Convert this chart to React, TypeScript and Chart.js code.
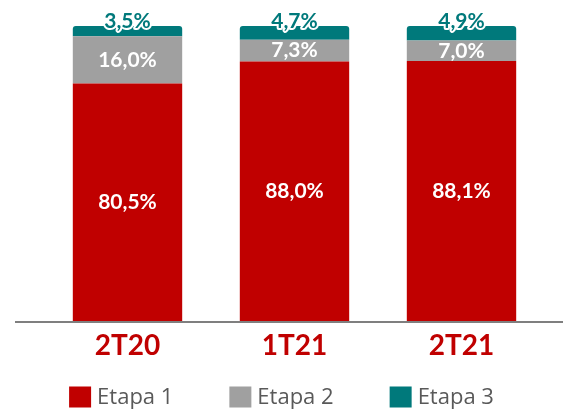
import React, { useEffect, useRef } from "react";
import { Chart, registerables } from "chart.js";

Chart.register(...registerables);

const categories = ["2T20", "1T21", "2T21"];
const etapa1 = [80.5, 88.0, 88.1];
const etapa2 = [16.0, 7.3, 7.0];
const etapa3 = [3.5, 4.7, 4.9];
const seriesNames = ["Etapa 1", "Etapa 2", "Etapa 3"];
const seriesColors = ["#C00000", "#A0A0A0", "#00797B"];

const FONT = "Lato, 'Open Sans', sans-serif";
const LEGEND_FONT = "'Open Sans', sans-serif";

const fmt = (v: number) => v.toFixed(1).replace(".", ",") + "%";

const axisLinePlugin = {
  id: "axisLine",
  afterDatasetsDraw(chart: any) {
    const { ctx, chartArea } = chart;
    ctx.save();
    ctx.strokeStyle = "#7F7F7F";
    ctx.lineWidth = 2;
    ctx.beginPath();
    ctx.moveTo(15, chartArea.bottom + 1);
    ctx.lineTo(chart.width, chartArea.bottom + 1);
    ctx.stroke();
    ctx.restore();
  },
};

const labelPlugin = {
  id: "segLabels",
  afterDatasetsDraw(chart: any) {
    const { ctx } = chart;
    ctx.save();
    ctx.textAlign = "center";
    ctx.textBaseline = "middle";
    ctx.font = `bold 21px ${FONT}`;
    chart.data.datasets.forEach((ds: any, di: number) => {
      const meta = chart.getDatasetMeta(di);
      meta.data.forEach((el: any, i: number) => {
        const v = ds.data[i];
        const text = fmt(v);
        if (di === 2) {
          const y = el.y - 5;
          ctx.lineJoin = "round";
          ctx.lineWidth = 4;
          ctx.strokeStyle = "#FFFFFF";
          ctx.strokeText(text, el.x, y);
          ctx.fillStyle = "#00797B";
          ctx.fillText(text, el.x, y);
        } else {
          const y = (el.y + el.base) / 2;
          ctx.fillStyle = "#FFFFFF";
          ctx.fillText(text, el.x, y);
        }
      });
    });
    ctx.restore();
  },
};

const legendPlugin = {
  id: "customLegend",
  afterDraw(chart: any) {
    const { ctx } = chart;
    const box = 22;
    const gapText = 6;
    const gapItem = 56;
    ctx.save();
    ctx.font = `22px ${LEGEND_FONT}`;
    const items = chart.data.datasets.map((ds: any) => ({
      text: ds.label,
      color: ds.backgroundColor,
      w: box + gapText + ctx.measureText(ds.label).width,
    }));
    const total = items.reduce((s: number, it: any) => s + it.w, 0) + gapItem * (items.length - 1);
    let x = (chart.width - total) / 2;
    const yMid = 398;
    items.forEach((it: any) => {
      ctx.fillStyle = it.color;
      ctx.fillRect(x, yMid - box / 2 - 0.5, box, box - 1);
      ctx.fillStyle = "#595959";
      ctx.textAlign = "left";
      ctx.textBaseline = "middle";
      ctx.fillText(it.text, x + box + gapText, yMid);
      x += it.w + gapItem;
    });
    ctx.restore();
  },
};

export default function App() {
  const ref = useRef<HTMLCanvasElement | null>(null);
  useEffect(() => {
    if (!ref.current) return;
    const chart = new Chart(ref.current, {
      type: "bar",
      data: {
        labels: categories,
        datasets: [etapa1, etapa2, etapa3].map((d, i) => ({
          label: seriesNames[i],
          data: d,
          backgroundColor: seriesColors[i],
          borderWidth: 0,
          barPercentage: 1,
          categoryPercentage: 0.655,
          borderRadius: i === 2 ? { topLeft: 3, topRight: 3, bottomLeft: 0, bottomRight: 0 } : 0,
          borderSkipped: false,
        })),
      },
      options: {
        animation: false,
        responsive: false,
        maintainAspectRatio: false,
        layout: { padding: { left: 44, right: 18, top: 26, bottom: 0 } },
        scales: {
          x: {
            stacked: true,
            grid: { display: false, drawTicks: false },
            border: { display: false },
            ticks: {
              color: "#C00000",
              font: { family: FONT, size: 28, weight: "bold" },
              padding: 8,
            },
            afterFit: (scale: any) => {
              scale.height = 90;
            },
          },
          y: {
            stacked: true,
            display: false,
            min: 0,
            max: 100,
          },
        },
        plugins: {
          legend: { display: false },
          tooltip: { enabled: false },
        },
      },
      plugins: [axisLinePlugin, labelPlugin, legendPlugin],
    });
    return () => chart.destroy();
  }, []);
  return (
    <div style={{ position: "fixed", left: 0, top: 0, width: 563, height: 411, background: "#fff" }}>
      <canvas ref={ref} width={563} height={411} style={{ width: 563, height: 411 }} />
    </div>
  );
}
